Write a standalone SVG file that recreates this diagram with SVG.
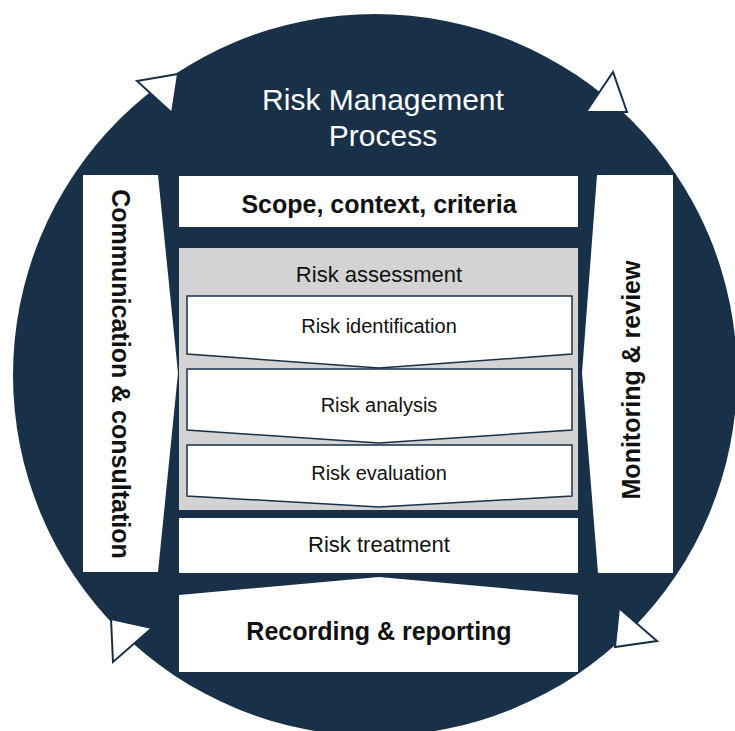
<svg xmlns="http://www.w3.org/2000/svg" width="735" height="731" viewBox="0 0 735 731">
<style>
.bg{fill:#ffffff}
.disc{fill:#183149}
.box{fill:#ffffff}
.sub{fill:#ffffff;stroke:#183149;stroke-width:1.5}
.grey{fill:#d3d3d3}
.head{fill:#ffffff;stroke:#183149;stroke-width:2;stroke-linejoin:miter}
.t{font-family:"Liberation Sans",Arial,sans-serif;fill:#111111;text-anchor:middle}
.b{font-weight:bold}
.title{font-family:"Liberation Sans",Arial,sans-serif;fill:#ffffff;text-anchor:middle;font-size:30px}
</style>
<rect class="bg" x="0" y="0" width="735" height="731"/>
<g id="cycle">
<ellipse class="disc" cx="375" cy="375" rx="362" ry="361"/>
</g>
<g id="connectors">
<polygon class="head" points="137,81 178,74 172,113"/>
<polygon class="head" points="613,72 586,112 627,112"/>
<polygon class="head" points="111,619 152,628 113,662"/>
<polygon class="head" points="619,608 657,641 615,647"/>
</g>
<g id="title">
<text class="title" x="383" y="110">Risk Management</text>
<text class="title" x="383" y="146">Process</text>
</g>
<g id="communication">
<polygon class="box" points="83,175 158,175 178,373 158,572 83,572"/>
<text class="t b" font-size="25" transform="translate(121,374) rotate(90)" x="0" y="9">Communication &amp; consultation</text>
</g>
<g id="monitoring">
<polygon class="box" points="597,175 673,175 673,573 598,573 582,373"/>
<text class="t b" font-size="25" transform="translate(631,380) rotate(-90)" x="0" y="9">Monitoring &amp; review</text>
</g>
<g id="scope">
<rect class="box" x="179" y="176" width="399" height="51"/>
<text class="t b" font-size="25" x="379" y="213">Scope, context, criteria</text>
</g>
<g id="assessment">
<rect class="grey" x="179" y="248" width="399" height="262"/>
<text class="t" font-size="22" x="379" y="282">Risk assessment</text>
</g>
<g id="identification">
<polygon class="sub" points="187,296 572,296 572,354 379,368 187,354"/>
<text class="t" font-size="20" x="379" y="333">Risk identification</text>
</g>
<g id="analysis">
<polygon class="sub" points="187,369 572,369 572,430 379,443 187,430"/>
<text class="t" font-size="20" x="379" y="412">Risk analysis</text>
</g>
<g id="evaluation">
<polygon class="sub" points="187,445 572,445 572,496 379,507 187,496"/>
<text class="t" font-size="20" x="379" y="480">Risk evaluation</text>
</g>
<g id="treatment">
<rect class="box" x="179" y="518" width="399" height="55"/>
<text class="t" font-size="22" x="379" y="552">Risk treatment</text>
</g>
<g id="recording">
<polygon class="box" points="179,595 379,577 578,595 578,672 179,672"/>
<text class="t b" font-size="25" x="379" y="640">Recording &amp; reporting</text>
</g>
</svg>
